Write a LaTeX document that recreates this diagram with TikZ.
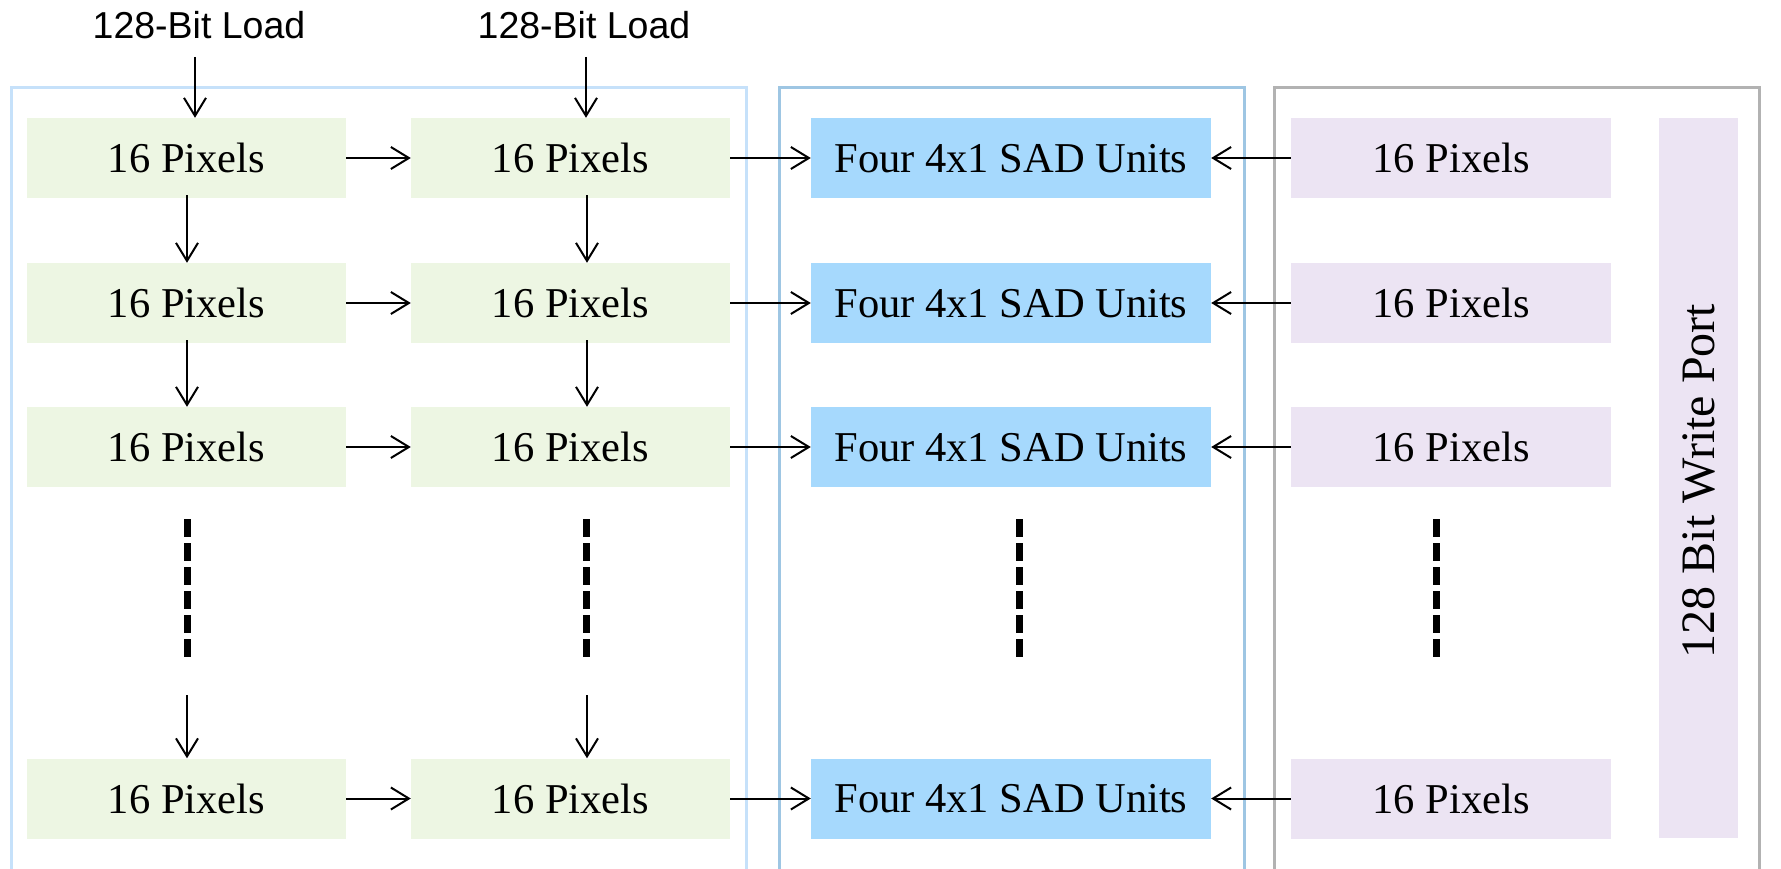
\documentclass[tikz,border=0pt]{standalone}
\usepackage{fontspec}
\setmainfont{Liberation Serif}
\setsansfont{Liberation Sans}
\usetikzlibrary{arrows.meta,calc}
\definecolor{gfill}{HTML}{EDF6E3}
\definecolor{bfill}{HTML}{A6D9FD}
\definecolor{pfill}{HTML}{ECE4F3}
\definecolor{fone}{HTML}{C6E1FA}
\definecolor{ftwo}{HTML}{9EC6E3}
\definecolor{fthree}{HTML}{B2B2B2}
\tikzset{
  boxtext/.style={font=\fontsize{42.5}{42.5}\selectfont,text depth=0pt,yshift=0pt},
  gbox/.style={fill=gfill,draw=none,minimum width=319pt,minimum height=80pt,inner sep=0pt,boxtext},
  bbox/.style={fill=bfill,draw=none,minimum width=400pt,minimum height=80pt,inner sep=0pt,boxtext},
  pbox/.style={fill=pfill,draw=none,minimum width=320pt,minimum height=80pt,inner sep=0pt,boxtext},
  lbl/.style={inner sep=0pt,font=\sffamily\fontsize{37.5}{37.5}\selectfont},
  arr/.style={line width=2pt,-{Straight Barb[length=18pt,width=22pt,line width=2pt]}},
  dots/.style={line width=7pt,dash pattern=on 18pt off 6pt},
  frame/.style={line width=3pt},
}
\begin{document}
\begin{tikzpicture}[x=1pt,y=-1pt]
\useasboundingbox (0,0) rectangle (1781,869);
% frames (open at bottom)
\draw[frame,fone] (11,880) -- (11,87.5) -- (746,87.5) -- (746,880);
\draw[frame,ftwo] (779,880) -- (779,87.5) -- (1244,87.5) -- (1244,880);
\draw[frame,fthree] (1274,880) -- (1274,87.5) -- (1759,87.5) -- (1759,880);
% load labels
\node[lbl] (l1) at (199,25) {128-Bit Load};
\node[lbl] (l2) at (584,25) {128-Bit Load};
% rows
\foreach \r/\y in {1/158,2/303,3/447,4/798.5}{
  \node[gbox] (ga\r) at (186.5,\y) {16 Pixels};
  \node[gbox] (gb\r) at (570.5,\y) {16 Pixels};
  \node[bbox] (s\r) at (1011,\y) {Four 4x1 SAD Units};
  \node[pbox] (p\r) at (1451,\y) {16 Pixels};
  \draw[arr] (ga\r.east) -- (gb\r.west);
  \draw[arr] (gb\r.east) -- (s\r.west);
  \draw[arr] (p\r.west) -- (s\r.east);
}
\node[fill=pfill,minimum width=79pt,minimum height=720pt,inner sep=0pt] (wp) at (1698.5,478) {};
\node[rotate=90,font=\fontsize{48}{48}\selectfont,xshift=-3pt] at (wp.center) {128 Bit Write Port};
% load arrows
\coordinate (t1) at (195,57);
\coordinate (t2) at (586,57);
\draw[arr] (t1) -- (t1 |- ga1.north);
\draw[arr] (t2) -- (t2 |- gb1.north);
% vertical arrows
\coordinate (c1) at (187,0);
\coordinate (c2) at (587,0);
\foreach \a/\b in {1/2,2/3}{
  \draw[arr] ([yshift=3pt]c1 |- ga\a.south) -- (c1 |- ga\b.north);
  \draw[arr] ([yshift=3pt]c2 |- gb\a.south) -- (c2 |- gb\b.north);
}
\coordinate (d1) at (187,695);
\coordinate (d2) at (587,695);
\draw[arr] (d1) -- (d1 |- ga4.north);
\draw[arr] (d2) -- (d2 |- gb4.north);
% dashed continuation
\foreach \x in {187,586,1019,1436}{
  \draw[dots] (\x,519) -- (\x,657);
}
\end{tikzpicture}
\end{document}
